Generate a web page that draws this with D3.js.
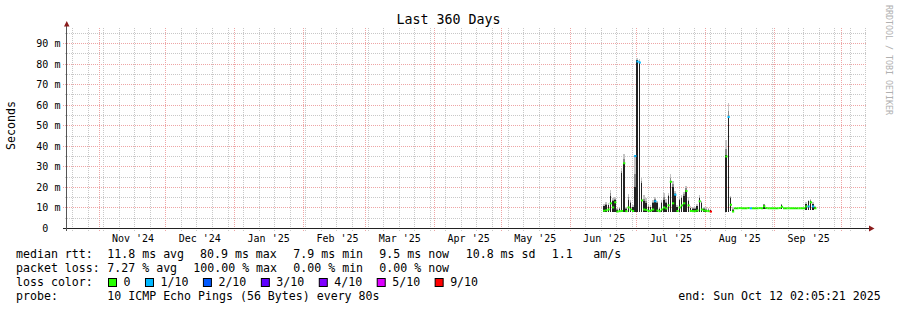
<!DOCTYPE html>
<html>
<head>
<meta charset="utf-8">
<script src="https://cdn.jsdelivr.net/npm/d3@7"></script>
<style>
  body { margin: 0; background: #fff; }
  text { font-family: "DejaVu Sans Mono", monospace; }
</style>
</head>
<body>
<div id="chart"></div>
<script>
// one row per day (UTC)
const days = [
  "2025-06-16","2025-06-17","2025-06-18","2025-06-19","2025-06-20","2025-06-21","2025-06-22","2025-06-23",
  "2025-06-24","2025-06-25","2025-06-26","2025-06-27","2025-06-28","2025-06-29","2025-06-30","2025-07-01",
  "2025-07-02","2025-07-03","2025-07-04","2025-07-05","2025-07-06","2025-07-07","2025-07-08","2025-07-09",
  "2025-07-10","2025-07-11","2025-07-12","2025-07-13","2025-07-14","2025-07-15","2025-07-16","2025-07-17",
  "2025-07-18","2025-07-19","2025-07-20","2025-07-21","2025-07-22","2025-07-23","2025-07-24","2025-07-25",
  "2025-07-26","2025-07-27","2025-07-28","2025-07-29","2025-07-30","2025-07-31","2025-08-01","2025-08-02",
  "2025-08-03",
  "2025-08-10","2025-08-11","2025-08-12","2025-08-13","2025-08-14","2025-08-15","2025-08-16","2025-08-17",
  "2025-08-18","2025-08-19","2025-08-20","2025-08-21","2025-08-22","2025-08-23","2025-08-24","2025-08-25",
  "2025-08-26","2025-08-27","2025-08-28","2025-08-29","2025-08-30","2025-08-31","2025-09-01","2025-09-02",
  "2025-09-03","2025-09-04","2025-09-05","2025-09-06","2025-09-07","2025-09-08","2025-09-09","2025-09-10",
  "2025-09-11","2025-09-12","2025-09-13","2025-09-14","2025-09-15","2025-09-16","2025-09-17","2025-09-18",
  "2025-09-19"
];

// median rtt (ms)
const medianMs = [
  8.4, 8.6, 9.0, 12.0, 10.0, 12.5, 8.0, 8.2,
  8.3, 31.5, 8.2, 10.0, 9.0, 8.3, 35.0, 81.0,
  80.5, 13.4, 9.0, 8.8, 8.3, 8.5, 9.0, 13.0,
  8.5, 8.2, 9.0, 10.0, 9.5, 11.0, 22.5, 12.0,
  16.2, 8.3, 10.0, 11.0, 12.0, 18.0, 11.0, 8.3,
  8.2, 8.2, 8.5, 13.0, 9.0, 8.5, 8.3, 8.2,
  8.0,
  34.8, 54.0, 11.3, 8.0, 9.6, 9.6, 9.7, 9.6,
  9.6, 9.6, 9.7, 9.6, 9.6, 9.6, 9.6, 9.7,
  9.6, 10.6, 9.7, 9.6, 9.6, 9.6, 9.6, 9.6,
  9.7, 10.3, 9.6, 9.6, 9.6, 9.6, 9.6, 9.6,
  9.6, 9.6, 9.6, 9.6, 10.5, 10.5, 12.5, 10.5,
  9.6
];

// smoke: lowest ping, dense band top, faint top (ms)
const smokeLoMs = [
  8.0, 8.0, 8.0, 8.0, 8.0, 8.0, 7.9, 7.9,
  8.0, 8.0, 8.0, 8.0, 8.0, 8.0, 8.0, 8.0,
  8.0, 8.0, 8.0, 8.0, 8.0, 8.0, 8.0, 8.0,
  8.0, 8.0, 8.0, 8.0, 8.0, 8.0, 8.0, 8.0,
  8.0, 8.0, 8.0, 8.0, 8.0, 8.0, 8.0, 8.0,
  7.9, 7.9, 8.0, 8.0, 8.0, 8.0, 7.9, 7.9,
  7.8,
  8.0, 8.0, 8.5, 7.6, 9.4, 9.4, 9.4, 9.4,
  9.4, 9.4, 9.4, 9.4, 9.4, 9.4, 9.4, 9.4,
  9.4, 9.4, 9.4, 9.4, 9.4, 9.4, 9.4, 9.4,
  9.4, 9.4, 9.4, 9.4, 9.4, 9.4, 9.4, 9.4,
  9.4, 9.4, 9.4, 9.4, 9.0, 9.0, 9.0, 9.0,
  9.2
];
const smokeHiMs = [
  10.5, 11.3, 11.0, 15.7, 13.0, 13.5, 8.8, 9.2,
  27.0, 31.7, 9.2, 13.8, 12.3, 10.0, 20.0, 81.5,
  81.0, 21.9, 13.0, 12.0, 10.2, 10.0, 12.3, 13.8,
  12.2, 9.2, 12.3, 13.8, 12.0, 15.6, 22.7, 20.0,
  16.2, 10.0, 13.8, 14.6, 15.5, 18.6, 13.0, 9.6,
  9.2, 9.2, 10.5, 14.6, 12.2, 9.2, 9.0, 9.0,
  8.8,
  35.7, 54.3, 14.6, 9.0, 9.8, 9.8, 9.9, 9.8,
  9.8, 9.8, 9.9, 9.8, 9.8, 9.8, 9.8, 9.9,
  9.8, 11.3, 9.9, 9.8, 9.8, 9.8, 9.8, 9.8,
  9.9, 11.3, 9.8, 9.8, 9.8, 9.8, 9.8, 9.8,
  9.8, 9.8, 9.8, 9.8, 11.5, 13.0, 13.0, 11.5,
  10.0
];
const smokeTopMs = [
  11.5, 12.5, 12.0, 18.5, 14.5, 15.0, 9.5, 10.0,
  29.0, 36.0, 10.0, 16.5, 13.5, 11.0, 35.5, 82.5,
  82.0, 24.5, 16.0, 14.5, 11.5, 11.0, 13.5, 15.0,
  13.0, 10.0, 13.5, 17.0, 14.0, 17.0, 26.4, 23.0,
  18.0, 11.0, 15.0, 16.0, 17.5, 20.5, 15.0, 10.5,
  10.0, 10.0, 11.5, 16.0, 13.0, 10.0, 10.0, 9.5,
  9.2,
  43.0, 60.8, 15.5, 10.0, 9.9, 9.9, 10.0, 9.9,
  9.9, 9.9, 10.0, 9.9, 9.9, 9.9, 9.9, 10.0,
  9.9, 11.8, 10.0, 9.9, 9.9, 9.9, 9.9, 9.9,
  10.0, 11.8, 9.9, 9.9, 9.9, 9.9, 9.9, 9.9,
  9.9, 9.9, 9.9, 9.9, 12.5, 13.5, 14.0, 12.5,
  10.5
];

// packet loss in tenths (10 pings)
const lossTenths = [
  0, 0, 0, 0, 0, 0, 0, 0,
  0, 0, 0, 0, 0, 0, 1, 1,
  1, 0, 0, 0, 0, 0, 0, 1,
  0, 0, 0, 0, 0, 0, 0, 0,
  1, 0, 0, 0, 0, 0, 0, 0,
  0, 0, 0, 0, 0, 0, 0, 0,
  9,
  0, 1, 0, 0, 0, 0, 0, 0,
  0, 0, 0, 1, 0, 0, 0, 0,
  0, 0, 0, 0, 0, 0, 0, 0,
  0, 0, 0, 0, 0, 0, 0, 0,
  0, 0, 0, 0, 0, 1, 0, 1,
  0
];

const yTicks = [0, 10, 20, 30, 40, 50, 60, 70, 80, 90];
const yMinor = [5, 15, 25, 35, 45, 55, 65, 75, 85, 95];
const monthLabels = ["Nov '24", "Dec '24", "Jan '25", "Feb '25", "Mar '25", "Apr '25",
                     "May '25", "Jun '25", "Jul '25", "Aug '25", "Sep '25"];

const lossLabels = ["0", "1/10", "2/10", "3/10", "4/10", "5/10", "9/10"];
const lossColors = ["#26ff00", "#00b8ff", "#0059ff", "#5e00ff", "#7e00ff", "#dd00ff", "#ff0000"];

const medianStats = ["11.8 ms avg", "80.9 ms max", "7.9 ms min", "9.5 ms now", "10.8 ms sd", "1.1", "am/s"];
const lossStats = ["7.27 % avg", "100.00 % max", "0.00 % min", "0.00 % now"];
const probeText = "10 ICMP Echo Pings (56 Bytes) every 80s";
const endText = "end: Sun Oct 12 02:05:21 2025";

const start = new Date(Date.UTC(2024, 9, 17, 2, 5, 21));
const end = new Date(Date.UTC(2025, 9, 12, 2, 5, 21));

const width = 897, height = 310;
const svg = d3.select("#chart").append("svg")
    .attr("width", width)
    .attr("height", height)
    .style("display", "block");

const x = d3.scaleUtc().domain([start, end]).range([65.5, 865.5]);
const y = d3.scaleLinear().domain([0, 97.3]).range([228, 28]);
const px = v => Math.round(v) + 0.5;

const minorCol = "#c8c8c8", majorCol = "#eea5a5";

// grid
const grid = svg.append("g");
grid.selectAll(".vmin")
    .data(d3.utcSunday.range(start, end))
    .join("line")
    .attr("x1", d => px(x(d))).attr("x2", d => px(x(d)))
    .attr("y1", 28).attr("y2", 231)
    .attr("stroke", minorCol).attr("stroke-dasharray", "1,1");
grid.selectAll(".hmin")
    .data(yMinor)
    .join("line")
    .attr("x1", 65).attr("x2", 867)
    .attr("y1", d => px(y(d))).attr("y2", d => px(y(d)))
    .attr("stroke", minorCol).attr("stroke-dasharray", "1,1");
grid.selectAll(".vmaj")
    .data(d3.utcMonth.range(start, end))
    .join("line")
    .attr("x1", d => px(x(d))).attr("x2", d => px(x(d)))
    .attr("y1", 28).attr("y2", 232)
    .attr("stroke", majorCol).attr("stroke-dasharray", "1,1");
grid.selectAll(".hmaj")
    .data(yTicks.slice(1))
    .join("line")
    .attr("x1", 63).attr("x2", 867)
    .attr("y1", d => px(y(d))).attr("y2", d => px(y(d)))
    .attr("stroke", majorCol).attr("stroke-dasharray", "1,1");

// smoke + median
const rows = days.map((s, i) => {
    const d0 = new Date(s + "T00:00:00Z");
    return {
        d0: d0, d1: d3.utcDay.offset(d0, 1),
        med: medianMs[i], lo: smokeLoMs[i], hi: smokeHiMs[i], top: smokeTopMs[i],
        loss: lossTenths[i]
    };
});

const lossColor = l => l >= 6 ? lossColors[6] : lossColors[l];
const colW = d => (x(d.d1) - x(d.d0)) * 0.7;

const smoke = svg.append("g").attr("shape-rendering", "crispEdges");
smoke.selectAll(".top")
    .data(rows)
    .join("rect")
    .attr("x", d => x(d.d0))
    .attr("width", colW)
    .attr("y", d => y(d.top))
    .attr("height", d => y(d.hi) - y(d.top))
    .attr("fill", "#c4c4c4");
smoke.selectAll(".mid")
    .data(rows)
    .join("rect")
    .attr("x", d => x(d.d0))
    .attr("width", colW)
    .attr("y", d => y(d.hi + (d.top - d.hi) * 0.4))
    .attr("height", d => y(d.hi) - y(d.hi + (d.top - d.hi) * 0.4))
    .attr("fill", "#8a8a8a");
smoke.selectAll(".dark")
    .data(rows)
    .join("rect")
    .attr("x", d => x(d.d0))
    .attr("width", colW)
    .attr("y", d => y(d.hi))
    .attr("height", d => y(d.lo) - y(d.hi))
    .attr("fill", "#222");

svg.append("g").selectAll("line")
    .data(rows)
    .join("line")
    .attr("x1", d => x(d.d0)).attr("x2", d => x(d.d1))
    .attr("y1", d => y(d.med)).attr("y2", d => y(d.med))
    .attr("stroke", d => lossColor(d.loss))
    .attr("stroke-width", 2);

// axes
svg.append("line")
    .attr("x1", 63).attr("x2", 869).attr("y1", 228.5).attr("y2", 228.5)
    .attr("stroke", "#222");
svg.append("line")
    .attr("x1", 66.5).attr("x2", 66.5).attr("y1", 26).attr("y2", 231)
    .attr("stroke", "#555");
svg.append("path").attr("d", "M64,26.5L69.5,26.5L66.75,21Z").attr("fill", "#8b1c1c");
svg.append("path").attr("d", "M869,225.5L869,231.5L874.5,228.5Z").attr("fill", "#8b1c1c");

// y labels
const yl = svg.append("g").attr("font-size", 10).attr("fill", "#000");
yl.selectAll(".num")
    .data(yTicks)
    .join("text")
    .attr("x", 48.4)
    .attr("y", d => px(y(d)) + 3.3)
    .attr("text-anchor", "end")
    .text(d => d);
yl.selectAll(".unit")
    .data(yTicks.slice(1))
    .join("text")
    .attr("x", 54.4)
    .attr("y", d => px(y(d)) + 3.3)
    .text("m");

// x labels, centred mid month
const months = d3.utcMonth.range(d3.utcMonth.ceil(start), end);
svg.append("g").attr("font-size", 10)
    .selectAll("text")
    .data(monthLabels)
    .join("text")
    .attr("x", (d, i) => x(new Date(+months[i] + 15.5 * 864e5)))
    .attr("y", 241.5)
    .attr("text-anchor", "middle")
    .text(d => d);

// title and side texts
svg.append("text")
    .attr("x", 448.5).attr("y", 23.5)
    .attr("text-anchor", "middle")
    .attr("font-size", 13.3)
    .text("Last 360 Days");
svg.append("text")
    .attr("transform", "translate(15,125.5) rotate(-90)")
    .attr("text-anchor", "middle")
    .attr("font-size", 11.6)
    .text("Seconds");
svg.append("text")
    .attr("transform", "translate(885.5,5) rotate(90)")
    .attr("font-size", 8.3)
    .attr("fill", "#b0b0b0")
    .text("RRDTOOL / TOBI OETIKER");

// legend
const lg = svg.append("g").attr("font-size", 11.6).attr("fill", "#000");
const cw = 11.6 * 0.602;
lg.append("text").attr("x", 16).attr("y", 258.3).text("median rtt:");
const medX = [107.3, 200, 293.3, 379.3, 465.7, 551.7, 593.3];
lg.selectAll(".ms")
    .data(medianStats)
    .join("text")
    .attr("x", (d, i) => medX[i]).attr("y", 258.3)
    .text(d => d);

lg.append("text").attr("x", 16).attr("y", 272.3).text("packet loss:");
const lossX = [107.3, 193.3, 293.3, 379.3];
lg.selectAll(".ls")
    .data(lossStats)
    .join("text")
    .attr("x", (d, i) => lossX[i]).attr("y", 272.3)
    .text(d => d);

lg.append("text").attr("x", 16).attr("y", 286.3).text("loss color:");
let bx = 108.5;
lossLabels.forEach((lab, i) => {
    lg.append("rect")
        .attr("x", bx).attr("y", 278.5)
        .attr("width", 8).attr("height", 8)
        .attr("fill", lossColors[i])
        .attr("stroke", "#000").attr("stroke-width", 1);
    lg.append("text").attr("x", bx + 15).attr("y", 286.3).text(lab);
    bx = bx + 15 + lab.length * cw + 15;
});

lg.append("text").attr("x", 16).attr("y", 300).text("probe:");
lg.append("text").attr("x", 107.3).attr("y", 300).text(probeText);
lg.append("text").attr("x", 678.3).attr("y", 300).text(endText);
</script>
</body>
</html>
